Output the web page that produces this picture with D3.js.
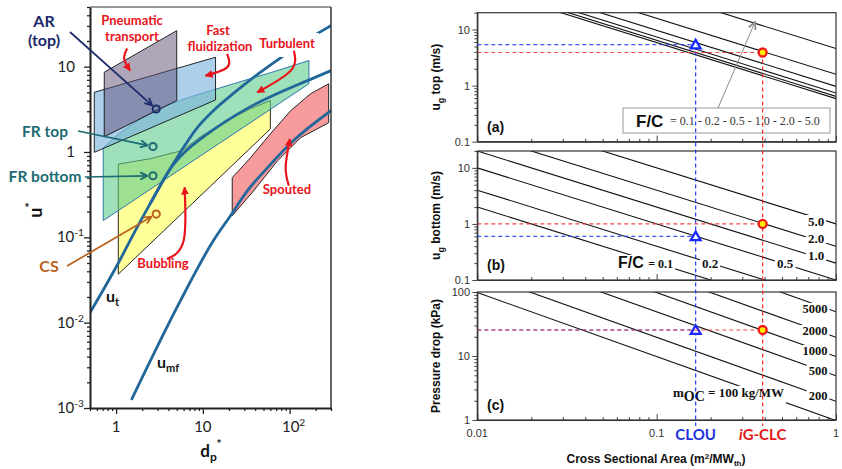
<!DOCTYPE html>
<html>
<head>
<meta charset="utf-8">
<script src="https://cdn.jsdelivr.net/npm/d3@7/dist/d3.min.js"></script>
<style>
  body { margin: 0; background: #fff; }
  svg { display: block; }
</style>
</head>
<body>
<svg id="chart" width="842" height="469"></svg>
<script>
// ---- regime map (left), points are [dp*, u*] ----
var pneumaticRegion = [[0.73, 8.6], [5.0, 26.4], [5.0, 4.0], [0.73, 1.51]];
var fastFluidRegion = [[0.56, 5.0], [14, 12.9], [14, 4.07], [0.56, 0.99]];
var turbulentRegion = [[0.71, 1.12], [1.05, 1.6], [1.57, 2.15], [2.98, 3.2], [6.6, 4.3], [22.5, 6.3], [60.3, 8.5], [167, 11.8], [167, 6.3], [0.71, 0.157]];
var bubblingRegion = [[1.06, 0.72], [2.47, 0.834], [5.8, 1.04], [9.35, 1.51], [18.2, 2.27], [35.4, 3.22], [60, 4.0], [60, 1.86], [1.06, 0.037]];
var spoutedRegion = [[21.8, 0.50], [35.4, 0.857], [60.3, 1.64], [103, 3.05], [175, 4.82], [282, 6.3], [282, 2.2], [134, 1.47], [72.6, 0.79], [38.4, 0.35], [21.8, 0.179]];

var utCurve = [[0.5, 0.0131], [1.05, 0.049], [1.66, 0.119], [2.47, 0.248], [4.21, 0.637], [6.28, 1.01], [9.87, 1.47], [18.2, 2.27], [35.4, 3.4], [85.3, 5.23], [161, 6.86], [300, 8.98]];
var upperCurve = [[2.47, 0.248], [4.21, 0.637], [5.95, 1.12], [8.41, 1.87], [13.2, 3.05], [23.8, 5.09], [43.8, 8.28], [78.7, 12.7], [175, 21.9], [300, 30.2]];
var umfCurve = [[1.52, 0.00128], [5.5, 0.018], [13.2, 0.0912], [20.8, 0.179], [32.7, 0.352], [55.7, 0.655], [111, 1.36], [300, 3.05]];

var pointNames = ["AR (top)", "FR top", "FR bottom", "CS"];
var pointDp = [2.9, 2.66, 2.66, 2.9];
var pointU = [3.19, 1.16, 0.527, 0.1875];
var pointColors = ["#1b2a6b", "#1d6b73", "#1d6b73", "#b8621e"];

var regimeArrows = [
  [[1.34, 16.3], [1.24, 12.4], [1.45, 8.98]],
  [[19.05, 14.1], [19.05, 9.8], [10.7, 7.83]],
  [[112, 15.4], [103, 8.98], [42.3, 5.0]],
  [[98, 0.402], [90, 0.66], [100.7, 1.42]],
  [[3.85, 0.0557], [6.0, 0.091], [6.16, 0.385]]
];

// ---- design charts (right), x = cross sectional area m2/MWth ----
var fcValues = ["0.1", "0.2", "0.5", "1.0", "2.0", "5.0"];
var uTopAtUnitArea = [0.586, 0.644, 0.738, 0.97, 1.59, 4.58];
var uBottomAtUnitArea = [0.02, 0.04, 0.1, 0.2, 0.4, 1.0];
var mocValues = ["100", "200", "500", "1000", "2000", "5000"];
var dpAtUnitArea = [0.98, 1.96, 4.9, 9.8, 19.6, 49];

var designNames = ["CLOU", "iG-CLC"];
var designArea = [0.165, 0.39];
var designUTop = [5.4, 3.9];
var designUBottom = [0.6, 1.0];
var designDp = [25.5, 25.5];

var svg = d3.select("#chart");
var defs = svg.append("defs");

function isPow10(d) {
  var l = Math.log10(d);
  return Math.abs(l - Math.round(l)) < 1e-6;
}

function arrowHead(id, color, open) {
  var m = defs.append("marker").attr("id", id)
    .attr("viewBox", "0 0 10 10").attr("refX", 9).attr("refY", 5)
    .attr("markerUnits", "userSpaceOnUse")
    .attr("markerWidth", open ? 9 : 8).attr("markerHeight", open ? 9 : 8)
    .attr("orient", "auto");
  if (open) {
    m.append("path").attr("d", "M1,1 L9,5 L1,9").attr("fill", "none")
      .attr("stroke", color).attr("stroke-width", 2);
  } else {
    m.append("path").attr("d", "M0,0 L10,5 L0,10 Z").attr("fill", color);
  }
}
arrowHead("redHead", "#e8141c", false);
arrowHead("navyHead", "#1b2a6b", true);
arrowHead("tealHead", "#1d6b73", true);
arrowHead("csHead", "#b8621e", true);
arrowHead("grayHead", "#8a8a8a", true);

// =================== LEFT CHART ===================
var xL = d3.scaleLog().domain([0.5, 300]).range([90, 331]);
var yL = d3.scaleLog().domain([0.001, 50]).range([408, 7]);

defs.append("clipPath").attr("id", "clipL").append("rect")
  .attr("x", 90).attr("y", 7).attr("width", 241).attr("height", 401);

var gL = svg.append("g").attr("clip-path", "url(#clipL)");
var poly = d3.line().x(d => xL(d[0])).y(d => yL(d[1])).curve(d3.curveLinearClosed);

gL.append("path").attr("d", poly(bubblingRegion))
  .attr("fill", "#ffff80").attr("fill-opacity", 0.8).attr("stroke", "#111").attr("stroke-width", 0.9);
gL.append("path").attr("d", poly(spoutedRegion))
  .attr("fill", "#f47a7c").attr("fill-opacity", 0.75).attr("stroke", "#111").attr("stroke-width", 0.9);
gL.append("path").attr("d", poly(turbulentRegion))
  .attr("fill", "#5ccb8c").attr("fill-opacity", 0.6).attr("stroke", "#2f78a8").attr("stroke-width", 1);
gL.append("path").attr("d", poly(fastFluidRegion))
  .attr("fill", "#7fb6de").attr("fill-opacity", 0.65).attr("stroke", "#111").attr("stroke-width", 0.9);
gL.append("path").attr("d", poly(pneumaticRegion))
  .attr("fill", "#5f4f73").attr("fill-opacity", 0.5).attr("stroke", "#111").attr("stroke-width", 0.9);

var curveLine = d3.line().x(d => xL(d[0])).y(d => yL(d[1])).curve(d3.curveMonotoneX);
[utCurve, upperCurve, umfCurve].forEach(function(c) {
  gL.append("path").attr("d", curveLine(c)).attr("fill", "none")
    .attr("stroke", "#22679a").attr("stroke-width", 2.8).attr("stroke-linecap", "round");
});

// axes
var yAxisL = d3.axisLeft(yL).tickValues(yL.ticks()).tickSizeInner(3).tickSizeOuter(0).tickFormat(() => "");
var gyL = svg.append("g").attr("transform", "translate(90,0)").call(yAxisL);
gyL.selectAll(".tick line").filter(d => isPow10(d)).attr("x2", -6);
var xAxisL = d3.axisBottom(xL).tickValues(xL.ticks().filter(d => d >= 0.5)).tickSizeInner(3).tickSizeOuter(0).tickFormat(() => "");
var gxL = svg.append("g").attr("transform", "translate(0,408)").call(xAxisL);
gxL.selectAll(".tick line").filter(d => isPow10(d)).attr("y2", 6);
[gyL, gxL].forEach(g => {
  g.selectAll(".tick line").attr("stroke", "#222").attr("stroke-width", 1.3);
  g.select(".domain").attr("stroke", "#222").attr("stroke-width", 2);
});
svg.append("line").attr("x1", 90).attr("x2", 331).attr("y1", 7).attr("y2", 7).attr("stroke", "#333").attr("stroke-width", 1);
svg.append("line").attr("x1", 331).attr("x2", 331).attr("y1", 7).attr("y2", 408).attr("stroke", "#333").attr("stroke-width", 1.5);

var leftFont = "Lato, 'Open Sans', sans-serif";
function powLabel(g, x, y, exp, anchor, size) {
  var t = g.append("text").attr("x", x).attr("y", y).attr("text-anchor", anchor)
    .style("font-family", leftFont).style("font-size", size + "px").attr("fill", "#222");
  if (exp === 0) t.text("1");
  else if (exp === 1) t.text("10");
  else {
    t.append("tspan").text("10");
    t.append("tspan").attr("dy", -6).style("font-size", (size * 0.68) + "px").text(exp);
  }
}
[1, 0, -1, -2, -3].forEach(function(e) {
  var y = yL(Math.pow(10, e)) + 5;
  powLabel(svg, (e >= 0 ? 75 : 84), y, e, "end", 15);
});
[0, 1, 2].forEach(function(e) {
  powLabel(svg, xL(Math.pow(10, e)) + (e === 2 ? 4 : 0), 432, e, "middle", 15);
});

// axis titles
var uTitle = svg.append("text").attr("transform", "translate(42,210) rotate(-90)")
  .attr("text-anchor", "middle").style("font-family", leftFont).style("font-weight", "bold").attr("fill", "#111");
uTitle.append("tspan").style("font-size", "18px").text("u");
uTitle.append("tspan").attr("dy", -8).style("font-size", "12px").text("*");
var dTitle = svg.append("text").attr("x", 211).attr("y", 457)
  .attr("text-anchor", "middle").style("font-family", leftFont).style("font-weight", "bold").attr("fill", "#111");
dTitle.append("tspan").style("font-size", "17px").text("d");
dTitle.append("tspan").attr("dy", 4).style("font-size", "12px").text("p");
dTitle.append("tspan").attr("dy", -13).style("font-size", "12px").text("*");

function subLabel(x, y, main, sub) {
  var t = svg.append("text").attr("x", x).attr("y", y)
    .style("font-family", leftFont).style("font-weight", "bold").attr("fill", "#111");
  t.append("tspan").style("font-size", "16px").text(main);
  t.append("tspan").attr("dy", 4).style("font-size", "11px").text(sub);
}
subLabel(106, 302, "u", "t");
subLabel(157, 368, "u", "mf");

// regime labels (red) + curved arrows
function redText(x, y, txt, bg) {
  var t = svg.append("text").attr("x", x).attr("y", y).attr("text-anchor", "middle")
    .style("font-family", leftFont).style("font-weight", "bold").style("font-size", "13px")
    .attr("fill", "#e8141c").text(txt);
  if (bg) {
    var b = t.node().getBBox();
    svg.insert("rect", () => t.node()).attr("x", b.x - 4).attr("y", b.y - 2)
      .attr("width", b.width + 8).attr("height", b.height + 8).attr("fill", "#fff");
  }
}
redText(132, 25, "Pneumatic");
redText(132, 41, "transport");
redText(218, 35, "Fast");
redText(220, 51, "fluidization");
redText(287, 48, "Turbulent", true);
redText(287, 194, "Spouted");
redText(163, 268, "Bubbling");

var arrowLine = d3.line().x(d => xL(d[0])).y(d => yL(d[1])).curve(d3.curveNatural);
regimeArrows.forEach(function(a) {
  svg.append("path").attr("d", arrowLine(a)).attr("fill", "none")
    .attr("stroke", "#e8141c").attr("stroke-width", 2.2).attr("marker-end", "url(#redHead)");
});

// highlighted operating points
var labelStarts = [[70, 32], [78, 131], [85, 177], [67, 266]];
var heads = ["navyHead", "tealHead", "tealHead", "csHead"];
pointNames.forEach(function(name, i) {
  var cx = xL(pointDp[i]), cy = yL(pointU[i]);
  var sx = labelStarts[i][0], sy = labelStarts[i][1];
  var dx = cx - sx, dy = cy - sy, len = Math.sqrt(dx * dx + dy * dy);
  svg.append("line").attr("x1", sx).attr("y1", sy)
    .attr("x2", cx - dx / len * 5.5).attr("y2", cy - dy / len * 5.5)
    .attr("stroke", pointColors[i]).attr("stroke-width", 1.7).attr("marker-end", "url(#" + heads[i] + ")");
  svg.append("circle").attr("cx", cx).attr("cy", cy).attr("r", 3.6)
    .attr("fill", "none").attr("stroke", pointColors[i]).attr("stroke-width", 2);
});
function ptText(x, y, txt, color, size) {
  svg.append("text").attr("x", x).attr("y", y).attr("text-anchor", "middle")
    .style("font-family", leftFont).style("font-weight", "bold").style("font-size", size + "px")
    .attr("fill", color).text(txt);
}
ptText(44, 27, "AR", "#1b2a6b", 16);
ptText(44, 46, "(top)", "#1b2a6b", 16);
ptText(45, 137, "FR top", "#1d6b73", 15.5);
ptText(45, 182, "FR bottom", "#1d6b73", 15.5);
ptText(49, 272, "CS", "#b8621e", 16);

// =================== RIGHT CHARTS ===================
var xR = d3.scaleLog().domain([0.01, 1]).range([477.3, 836]);
var panels = [
  { y: d3.scaleLog().domain([0.1, 20]).range([141.7, 12.7]), k: uTopAtUnitArea, tag: "(a)", title: ["u", "g", " top (m/s)"], labels: ["0.1", "1", "10"] },
  { y: d3.scaleLog().domain([0.1, 20]).range([280, 151]), k: uBottomAtUnitArea, tag: "(b)", title: ["u", "g", " bottom (m/s)"], labels: ["0.1", "1", "10"] },
  { y: d3.scaleLog().domain([1, 100]).range([420, 292]), k: dpAtUnitArea, tag: "(c)", title: ["Pressure drop (kPa)"], labels: ["1", "10", "100"] }
];
var sans = "'Liberation Sans', Arial, sans-serif";
var serif = "'Liberation Serif', 'Times New Roman', serif";
var segLine = d3.line().x(d => xR(d[0]));

panels.forEach(function(p, i) {
  var y = p.y, top = y.range()[1], bot = y.range()[0];
  defs.append("clipPath").attr("id", "clipR" + i).append("rect")
    .attr("x", 477.3).attr("y", top).attr("width", 836 - 477.3).attr("height", bot - top);
  var g = svg.append("g").attr("class", "panel" + i);
  p.g = g;
  var lg = g.append("g").attr("clip-path", "url(#clipR" + i + ")");
  p.k.forEach(function(k) {
    lg.append("path").attr("d", segLine.y(d => y(d[1]))([[0.01, k / 0.01], [1, k]]))
      .attr("fill", "none").attr("stroke", "#111").attr("stroke-width", 1.1);
  });
  // axes
  var ay = d3.axisLeft(y).tickValues(y.ticks()).tickSizeInner(3).tickSizeOuter(0).tickFormat(() => "");
  var gy = g.append("g").attr("transform", "translate(477.3,0)").call(ay);
  gy.selectAll(".tick line").filter(d => isPow10(d)).attr("x2", -5);
  var ax = d3.axisBottom(xR).tickValues(xR.ticks()).tickSizeInner(-3).tickSizeOuter(0).tickFormat(() => "");
  var gx = g.append("g").attr("transform", "translate(0," + bot + ")").call(ax);
  gx.selectAll(".tick line").filter(d => isPow10(d)).attr("y2", -6);
  [gy, gx].forEach(a => {
    a.selectAll(".tick line").attr("stroke", "#333").attr("stroke-width", 0.9);
    a.select(".domain").attr("stroke", "#333").attr("stroke-width", 1.2);
  });
  g.append("rect").attr("x", 477.3).attr("y", top).attr("width", 836 - 477.3).attr("height", bot - top)
    .attr("fill", "none").attr("stroke", "#333").attr("stroke-width", 1.2);
  y.ticks().filter(isPow10).forEach(function(v, j) {
    g.append("text").attr("x", 470).attr("y", y(v) + 4).attr("text-anchor", "end")
      .style("font-family", sans).style("font-size", "11px").attr("fill", "#333").text(p.labels[j]);
  });
  g.append("text").attr("x", 487).attr("y", bot - 10)
    .style("font-family", sans).style("font-weight", "bold").style("font-size", "14px").attr("fill", "#111").text(p.tag);
  var cy = (top + bot) / 2;
  var tt = g.append("text").attr("transform", "translate(440," + cy + ") rotate(-90)").attr("text-anchor", "middle")
    .style("font-family", sans).style("font-weight", "bold").style("font-size", "12px").attr("fill", "#111");
  if (p.title.length === 3) {
    tt.append("tspan").text(p.title[0]);
    tt.append("tspan").attr("dy", 4).style("font-size", "9px").text(p.title[1]);
    tt.append("tspan").attr("dy", -4).text(p.title[2]);
  } else {
    tt.text(p.title[0]);
  }
});

// labels on lines with white knock-out
function knock(g, t, padX, padY) {
  var b = t.node().getBBox();
  g.insert("rect", () => t.node()).attr("x", b.x - padX).attr("y", b.y - padY + 2)
    .attr("width", b.width + 2 * padX).attr("height", b.height + 2 * padY - 4).attr("fill", "#fff");
}
function lineLabel(g, x, y, txt, anchor, size) {
  var t = g.append("text").attr("x", x).attr("y", y).attr("text-anchor", anchor || "middle")
    .style("font-family", serif).style("font-weight", "bold").style("font-size", (size || 13) + "px")
    .attr("fill", "#111").text(txt);
  knock(g, t, 2, 1);
  return t;
}
var gb = panels[1].g, gc = panels[2].g, ga = panels[0].g;
lineLabel(gb, 816, 226, fcValues[5]);
lineLabel(gb, 816, 243, fcValues[4]);
lineLabel(gb, 816, 260, fcValues[3]);
lineLabel(gb, 785, 268, fcValues[2]);
lineLabel(gb, 710, 268, fcValues[1]);
var fcb = gb.append("text").attr("x", 618).attr("y", 268).attr("fill", "#111").style("font-weight", "bold");
fcb.append("tspan").style("font-family", sans).style("font-size", "16px").text("F/C ");
fcb.append("tspan").style("font-family", serif).style("font-size", "12px").text("= " + fcValues[0]);
knock(gb, fcb, 2, 1);

lineLabel(gc, 815, 313, mocValues[5], "middle", 12.5);
lineLabel(gc, 815, 335, mocValues[4], "middle", 12.5);
lineLabel(gc, 815, 355, mocValues[3], "middle", 12.5);
lineLabel(gc, 818, 375, mocValues[2], "middle", 12.5);
lineLabel(gc, 818, 400, mocValues[1], "middle", 12.5);
var mt = gc.append("text").attr("x", 673).attr("y", 397).attr("fill", "#111")
  .style("font-family", serif).style("font-weight", "bold").style("font-size", "13px");
mt.append("tspan").text("m");
mt.append("tspan").attr("dy", 4).style("font-size", "14px").text("OC");
mt.append("tspan").attr("dy", -4).text(" = " + mocValues[0] + " kg/MW");
knock(gc, mt, 2, 1);

// F/C legend box in (a)
ga.append("rect").attr("x", 623).attr("y", 108).attr("width", 207).attr("height", 25)
  .attr("fill", "#fff").attr("stroke", "#999").attr("stroke-width", 1);
var fca = ga.append("text").attr("x", 636).attr("y", 127).attr("fill", "#111");
fca.append("tspan").style("font-family", sans).style("font-weight", "bold").style("font-size", "17px").text("F/C");
fca.append("tspan").attr("x", 670).attr("dy", -2).style("font-family", serif).style("font-size", "12px").attr("fill", "#333")
  .text("= " + fcValues.join(" - "));
ga.append("line").attr("x1", 718).attr("y1", 108).attr("x2", 755).attr("y2", 22)
  .attr("stroke", "#8a8a8a").attr("stroke-width", 1).attr("marker-end", "url(#grayHead)");

// design points with dashed guides
var designColors = ["#1f3cf5", "#f02a2a"];
var lastBottom = 426;
designNames.forEach(function(n, i) {
  var x = xR(designArea[i]);
  var ys = [panels[0].y(designUTop[i]), panels[1].y(designUBottom[i]), panels[2].y(designDp[i])];
  svg.append("line").attr("x1", x).attr("x2", x).attr("y1", ys[0]).attr("y2", lastBottom)
    .attr("stroke", designColors[i]).attr("stroke-width", 1.2).attr("stroke-dasharray", "4,3");
  ys.forEach(function(yy) {
    svg.append("line").attr("x1", 477.3).attr("x2", x).attr("y1", yy).attr("y2", yy)
      .attr("stroke", designColors[i]).attr("stroke-width", 1.2).attr("stroke-dasharray", "4,3")
      .attr("stroke-opacity", 0.85);
  });
  ys.forEach(function(yy) {
    if (i === 0) {
      svg.append("path").attr("d", d3.symbol(d3.symbolTriangle, 42)())
        .attr("transform", "translate(" + x + "," + (yy + 1) + ")")
        .attr("fill", "#fff").attr("stroke", "#1a2aff").attr("stroke-width", 2.3);
    } else {
      svg.append("circle").attr("cx", x).attr("cy", yy).attr("r", 4)
        .attr("fill", "#ffee00").attr("stroke", "#f01818").attr("stroke-width", 2.3);
    }
  });
});

// x tick labels and names
[0.01, 0.1, 1].forEach(function(v, j) {
  svg.append("text").attr("x", xR(v)).attr("y", 437).attr("text-anchor", "middle")
    .style("font-family", sans).style("font-size", "11px").attr("fill", "#333").text(["0.01", "0.1", "1"][j]);
});
svg.append("text").attr("x", xR(designArea[0])).attr("y", 440).attr("text-anchor", "middle")
  .style("font-family", leftFont).style("font-weight", "bold").style("font-size", "15px")
  .attr("fill", "#2233dd").text(designNames[0]);
var ig = svg.append("text").attr("x", xR(designArea[1])).attr("y", 440).attr("text-anchor", "middle")
  .style("font-family", leftFont).style("font-weight", "bold").style("font-size", "15px").attr("fill", "#e01818");
ig.append("tspan").style("font-style", "italic").text("i");
ig.append("tspan").text(designNames[1].slice(1));

var xt = svg.append("text").attr("x", 656).attr("y", 463).attr("text-anchor", "middle")
  .style("font-family", sans).style("font-weight", "bold").style("font-size", "12px").attr("fill", "#111");
xt.append("tspan").text("Cross Sectional Area (m");
xt.append("tspan").attr("dy", -4).style("font-size", "8px").text("2");
xt.append("tspan").attr("dy", 4).text("/MW");
xt.append("tspan").attr("dy", 3).style("font-size", "8px").text("th");
xt.append("tspan").attr("dy", -3).text(")");
</script>
</body>
</html>
